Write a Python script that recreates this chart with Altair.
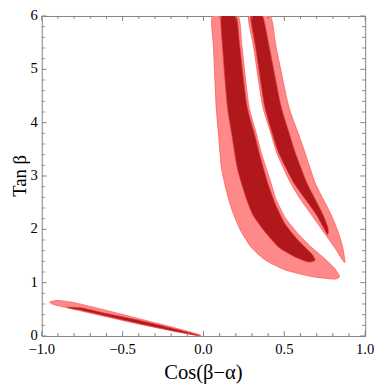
import altair as alt
import pandas as pd

# ---- data: (cos(beta-alpha), tan beta) outlines ----
# left band, outer (light) region
ll_x = [0.056, 0.062, 0.078, 0.093, 0.110, 0.130, 0.155, 0.188, 0.232, 0.296, 0.385, 0.508,
        0.669, 0.811, 0.841, 0.811, 0.750, 0.669, 0.589, 0.508, 0.448, 0.417, 0.359, 0.328,
        0.280, 0.238, 0.213]
ll_y = [6.0, 5.418, 4.327, 3.782, 3.182, 2.873, 2.569, 2.267, 1.964, 1.660, 1.418, 1.236,
        1.115, 1.067, 1.115, 1.267, 1.449, 1.660, 1.904, 2.205, 2.569, 2.873, 3.418, 3.782,
        4.327, 5.418, 6.0]
# left band, inner (dark) region
ld_x = [0.110, 0.118, 0.147, 0.175, 0.207, 0.234, 0.266, 0.306, 0.377, 0.467, 0.569, 0.649,
        0.690, 0.669, 0.589, 0.508, 0.448, 0.397, 0.346, 0.316, 0.268, 0.225, 0.201]
ld_y = [6.0, 5.418, 4.327, 3.782, 3.182, 2.873, 2.569, 2.267, 1.964, 1.660, 1.478, 1.387,
        1.418, 1.540, 1.782, 2.085, 2.449, 2.873, 3.418, 3.782, 4.327, 5.418, 6.0]
# right band, light region
rl_x = [0.280, 0.310, 0.365, 0.419, 0.455, 0.538, 0.599, 0.669, 0.740, 0.811, 0.861, 0.875,
        0.861, 0.831, 0.790, 0.740, 0.690, 0.630, 0.588, 0.525, 0.449, 0.413]
rl_y = [6.0, 5.418, 4.327, 3.782, 3.418, 2.873, 2.569, 2.267, 1.964, 1.660, 1.418, 1.387,
        1.660, 1.964, 2.267, 2.569, 2.873, 3.418, 3.782, 4.327, 5.418, 6.0]
# right band, dark region
rd_x = [0.292, 0.322, 0.377, 0.427, 0.467, 0.558, 0.629, 0.699, 0.766,
        0.770, 0.740, 0.690, 0.639, 0.570, 0.532, 0.478, 0.407, 0.365]
rd_y = [6.0, 5.418, 4.327, 3.782, 3.418, 2.873, 2.569, 2.267, 1.904,
        2.024, 2.267, 2.569, 2.873, 3.418, 3.782, 4.327, 5.418, 6.0]
# lower-left ellipse, light
el_x = [-0.949, -0.90, -0.80, -0.60, -0.40, -0.20, -0.05, -0.015, -0.05, -0.20, -0.40,
        -0.60, -0.80, -0.90, -0.94]
el_y = [0.642, 0.665, 0.625, 0.480, 0.325, 0.170, 0.045, 0.010, 0.015, 0.100, 0.225,
        0.360, 0.500, 0.570, 0.605]
# lower-left ellipse, dark
ed_x = [-0.838, -0.75, -0.60, -0.40, -0.20, -0.05, -0.025, -0.05, -0.20, -0.40, -0.60,
        -0.75, -0.82]
ed_y = [0.540, 0.525, 0.420, 0.295, 0.150, 0.035, 0.010, 0.018, 0.105, 0.235, 0.375,
        0.480, 0.515]

# axis tick values and labels
x_major = [-1.0, -0.5, 0.0, 0.5, 1.0]
x_major_text = ["−1.0", "−0.5", "0.0", "0.5", "1.0"]
y_major = [0, 1, 2, 3, 4, 5, 6]
y_major_text = ["0", "1", "2", "3", "4", "5", "6"]
x_minor = [-0.9, -0.8, -0.7, -0.6, -0.4, -0.3, -0.2, -0.1,
           0.1, 0.2, 0.3, 0.4, 0.6, 0.7, 0.8, 0.9]
y_minor = [0.2, 0.4, 0.6, 0.8, 1.2, 1.4, 1.6, 1.8, 2.2, 2.4, 2.6, 2.8,
           3.2, 3.4, 3.6, 3.8, 4.2, 4.4, 4.6, 4.8, 5.2, 5.4, 5.6, 5.8]
x_title = "Cos(β−α)"
y_title = "Tan β"


def poly(name, xs, ys):
    return pd.DataFrame({"shape": name, "i": list(range(len(xs))), "x": xs, "y": ys})


light_bands = pd.concat([poly("ll", ll_x, ll_y), poly("rl", rl_x, rl_y)])
light_ell = poly("el", el_x, el_y)
dark = pd.concat([poly("ld", ld_x, ld_y), poly("rd", rd_x, rd_y), poly("ed", ed_x, ed_y)])

W, H = 330.5, 327
SERIF = "Liberation Serif"
FRAME = "#808080"
LIGHT, LIGHT_EDGE = "#ff8888", "#ff5a5a"
DARK, DARK_EDGE = "#b0181b", "#d8393b"
MAJ, MIN = 5, 3          # tick lengths in pixels
X0, X1, Y0, Y1 = -1, 1, 0, 6

xs = alt.Scale(domain=[X0, X1], nice=False, zero=False)
ys = alt.Scale(domain=[Y0, Y1], nice=False, zero=False)

# pixel tick length converted to data units on each axis
XU = (X1 - X0) / W
YU = (Y1 - Y0) / H


def region(df, fill, stroke, sw):
    return alt.Chart(df).mark_line(
        fill=fill, stroke=stroke, strokeWidth=sw, clip=True,
        interpolate="cardinal-closed", tension=0.4
    ).encode(
        x=alt.X("x:Q", scale=xs, axis=None),
        y=alt.Y("y:Q", scale=ys, axis=None),
        order="i:Q", detail="shape:N",
    )


def xticks(values, edge, length):
    # vertical tick from the edge (data y) inward by `length` pixels
    end = edge + (length * YU if edge == Y0 else -length * YU)
    return alt.Chart(pd.DataFrame({"v": values})).transform_calculate(
        a=f"{edge}", b=f"{end}"
    ).mark_rule(color=FRAME, strokeWidth=1).encode(
        x=alt.X("v:Q", scale=xs, axis=None),
        y=alt.Y("a:Q", scale=ys, axis=None),
        y2="b:Q",
    )


def yticks(values, edge, length):
    end = edge + (length * XU if edge == X0 else -length * XU)
    return alt.Chart(pd.DataFrame({"v": values})).transform_calculate(
        a=f"{edge}", b=f"{end}"
    ).mark_rule(color=FRAME, strokeWidth=1).encode(
        y=alt.Y("v:Q", scale=ys, axis=None),
        x=alt.X("a:Q", scale=xs, axis=None),
        x2="b:Q",
    )


x_tick_labels = alt.Chart(pd.DataFrame({"v": x_major, "t": x_major_text})).mark_text(
    font=SERIF, fontSize=15, color="black", align="center", baseline="alphabetic"
).encode(x=alt.X("v:Q", scale=xs, axis=None), y=alt.value(H + 18), text="t:N")

y_tick_labels = alt.Chart(pd.DataFrame({"v": y_major, "t": y_major_text})).mark_text(
    font=SERIF, fontSize=15, color="black", align="right", baseline="middle", dx=-4, dy=-1
).encode(y=alt.Y("v:Q", scale=ys, axis=None), x=alt.value(0), text="t:N")

x_title_mark = alt.Chart(pd.DataFrame({"t": [x_title]})).mark_text(
    font=SERIF, fontSize=21, color="black", align="center", baseline="alphabetic"
).encode(x=alt.value(W / 2), y=alt.value(H + 44), text="t:N")

y_title_mark = alt.Chart(pd.DataFrame({"t": [y_title]})).mark_text(
    font=SERIF, fontSize=19, color="black", align="center", baseline="alphabetic", angle=270
).encode(x=alt.value(-16.5), y=alt.value(H / 2), text="t:N")

layers = [
    region(light_bands, LIGHT, LIGHT_EDGE, 0.8),
    region(light_ell, LIGHT, LIGHT_EDGE, 0.8),
    region(dark, DARK, DARK_EDGE, 0.7),
    # inward ticks on all four sides of the frame
    xticks(x_major, Y0, MAJ), xticks(x_minor, Y0, MIN),
    xticks(x_major, Y1, MAJ), xticks(x_minor, Y1, MIN),
    yticks(y_major, X0, MAJ), yticks(y_minor, X0, MIN),
    yticks(y_major, X1, MAJ), yticks(y_minor, X1, MIN),
    x_tick_labels, y_tick_labels, x_title_mark, y_title_mark,
]

chart = alt.layer(*layers).properties(
    width=W, height=H,
    autosize=alt.AutoSizeParams(type="none"),
    padding={"left": 34.5, "top": 4, "right": 9, "bottom": 50},
    background="white",
).configure_view(stroke=FRAME, strokeWidth=1)

chart.save("out.html", embed_options={"renderer": "svg", "actions": False})
